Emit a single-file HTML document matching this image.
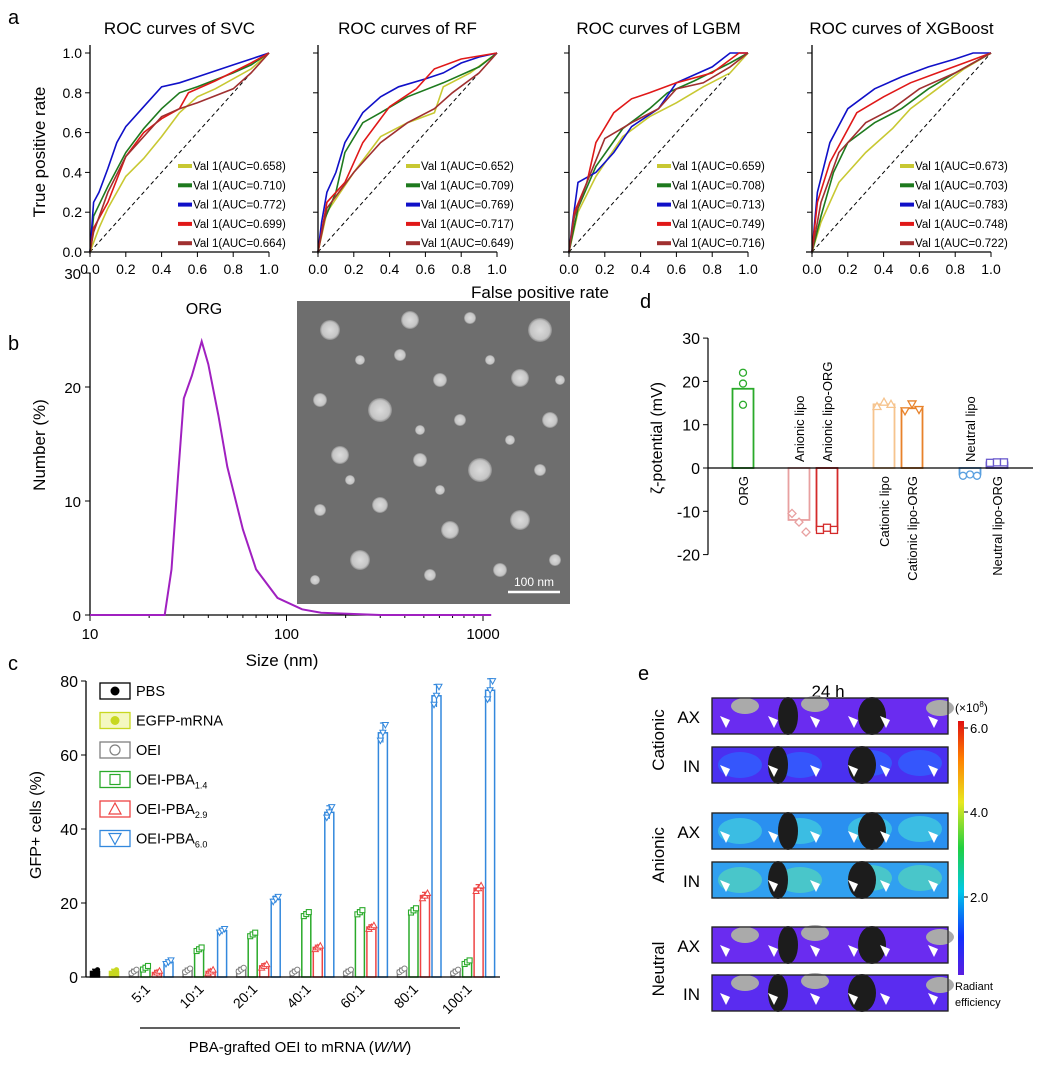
<!DOCTYPE html>
<html><head><meta charset="utf-8"><style>
html,body{margin:0;padding:0;background:#fff}
svg{display:block;font-family:"Liberation Sans",Arial,sans-serif}
</style></head><body>
<svg id="fig" width="1039" height="1065" viewBox="0 0 1039 1065" xmlns="http://www.w3.org/2000/svg">
<defs>
<radialGradient id="emg" cx="50%" cy="50%" r="50%"><stop offset="0" stop-color="#dcdcdc"/><stop offset="0.8" stop-color="#c4c4c4"/><stop offset="1" stop-color="#8a8a8a"/></radialGradient>
<linearGradient id="cbar" x1="0" y1="1" x2="0" y2="0"><stop offset="0" stop-color="#5a1ee0"/><stop offset="0.15" stop-color="#1030ff"/><stop offset="0.33" stop-color="#00c8e8"/><stop offset="0.5" stop-color="#20d040"/><stop offset="0.68" stop-color="#e8e820"/><stop offset="0.85" stop-color="#ff8000"/><stop offset="1" stop-color="#e01010"/></linearGradient>
</defs>
<g id="root"></g>
</svg>
<script>
const NS='http://www.w3.org/2000/svg';
const root=document.getElementById('root');
function el(tag,attrs,parent,text){const e=document.createElementNS(NS,tag);for(const k in attrs)e.setAttribute(k,attrs[k]);if(text!==undefined)e.textContent=text;(parent||root).appendChild(e);return e;}

// ---------- Panel a data ----------
const rocModels=['SVC','RF','LGBM','XGBoost'];
const rocColors=['#c8c832','#1e7a1e','#1010c8','#e01818','#a03030'];
const aucSVC=['0.658','0.710','0.772','0.699','0.664'];
const aucRF=['0.652','0.709','0.769','0.717','0.649'];
const aucLGBM=['0.659','0.708','0.713','0.749','0.716'];
const aucXGB=['0.673','0.703','0.783','0.748','0.722'];
const svcYellow=[[0,0],[0.05,0.12],[0.1,0.22],[0.2,0.38],[0.3,0.47],[0.4,0.58],[0.5,0.7],[0.6,0.78],[0.7,0.82],[0.9,0.92],[1,1]];
const svcGreen=[[0,0],[0.02,0.18],[0.1,0.33],[0.2,0.5],[0.3,0.62],[0.4,0.72],[0.5,0.8],[0.6,0.83],[0.8,0.9],[0.9,0.94],[1,1]];
const svcBlue=[[0,0],[0.02,0.25],[0.05,0.3],[0.1,0.42],[0.15,0.55],[0.2,0.63],[0.3,0.73],[0.4,0.83],[0.5,0.85],[0.6,0.88],[0.8,0.94],[0.9,0.97],[1,1]];
const svcRed=[[0,0],[0.02,0.12],[0.1,0.25],[0.2,0.48],[0.3,0.6],[0.4,0.67],[0.5,0.72],[0.55,0.8],[0.7,0.86],[0.9,0.95],[1,1]];
const svcBrown=[[0,0],[0.02,0.1],[0.1,0.3],[0.2,0.48],[0.3,0.58],[0.4,0.68],[0.5,0.72],[0.6,0.75],[0.8,0.82],[0.9,0.9],[1,1]];
const rfYellow=[[0,0],[0.05,0.2],[0.2,0.4],[0.35,0.58],[0.5,0.65],[0.65,0.7],[0.7,0.83],[0.85,0.9],[1,1]];
const rfGreen=[[0,0],[0.03,0.15],[0.1,0.3],[0.15,0.5],[0.25,0.65],[0.35,0.7],[0.5,0.78],[0.7,0.85],[0.9,0.93],[1,1]];
const rfBlue=[[0,0],[0.02,0.15],[0.05,0.3],[0.1,0.4],[0.15,0.55],[0.25,0.7],[0.35,0.78],[0.45,0.83],[0.6,0.87],[0.7,0.9],[0.8,0.95],[0.9,0.98],[1,1]];
const rfRed=[[0,0],[0.02,0.1],[0.05,0.25],[0.15,0.35],[0.25,0.55],[0.4,0.73],[0.55,0.82],[0.65,0.92],[0.8,0.97],[1,1]];
const rfBrown=[[0,0],[0.05,0.22],[0.2,0.4],[0.35,0.55],[0.5,0.65],[0.65,0.72],[0.75,0.8],[0.9,0.9],[1,1]];
const lgYellow=[[0,0],[0.05,0.2],[0.15,0.38],[0.3,0.58],[0.45,0.68],[0.6,0.75],[0.75,0.83],[0.9,0.9],[1,1]];
const lgGreen=[[0,0],[0.05,0.22],[0.15,0.43],[0.3,0.62],[0.45,0.72],[0.55,0.8],[0.7,0.86],[0.9,0.95],[1,1]];
const lgBlue=[[0,0],[0.02,0.15],[0.05,0.35],[0.15,0.4],[0.25,0.5],[0.35,0.63],[0.5,0.72],[0.6,0.85],[0.8,0.93],[0.9,1],[1,1]];
const lgRed=[[0,0],[0.03,0.2],[0.1,0.35],[0.15,0.55],[0.25,0.7],[0.35,0.77],[0.45,0.8],[0.6,0.85],[0.8,0.9],[0.95,1],[1,1]];
const lgBrown=[[0,0],[0.03,0.18],[0.1,0.35],[0.2,0.57],[0.35,0.65],[0.5,0.72],[0.6,0.82],[0.75,0.85],[0.9,0.93],[1,1]];
const xgYellow=[[0,0],[0.05,0.15],[0.15,0.35],[0.3,0.5],[0.45,0.62],[0.55,0.72],[0.7,0.82],[0.85,0.92],[1,1]];
const xgGreen=[[0,0],[0.05,0.18],[0.12,0.4],[0.2,0.55],[0.35,0.65],[0.5,0.72],[0.65,0.82],[0.8,0.9],[1,1]];
const xgBlue=[[0,0],[0.03,0.3],[0.1,0.55],[0.2,0.72],[0.35,0.82],[0.5,0.88],[0.65,0.93],[0.8,0.97],[0.9,1],[1,1]];
const xgRed=[[0,0],[0.03,0.25],[0.1,0.45],[0.25,0.7],[0.4,0.78],[0.55,0.85],[0.7,0.9],[0.85,0.95],[1,1]];
const xgBrown=[[0,0],[0.05,0.25],[0.15,0.5],[0.3,0.65],[0.45,0.72],[0.6,0.82],[0.8,0.9],[1,1]];
const rocSets=[[svcYellow,svcGreen,svcBlue,svcRed,svcBrown],[rfYellow,rfGreen,rfBlue,rfRed,rfBrown],[lgYellow,lgGreen,lgBlue,lgRed,lgBrown],[xgYellow,xgGreen,xgBlue,xgRed,xgBrown]];
const rocAucs=[aucSVC,aucRF,aucLGBM,aucXGB];
const rocTicks=['0.0','0.2','0.4','0.6','0.8','1.0'];

// ---------- Panel b data ----------
const sizeNm=[10,24,26,28,30,33,37,40,45,50,60,70,90,120,150,300,1100];
const numberPct=[0,0,4,12,19,21,24,22,17.5,13,7.5,4,1.5,0.5,0.2,0,0];
const bTicksY=[0,10,20,30];
const bTicksX=[10,100,1000];

// ---------- Panel c data ----------
const cRatios=['5:1','10:1','20:1','40:1','60:1','80:1','100:1'];
const cPBS=1.5, cEGFP=1.5;
const cOEI=[1.5,1.8,2,1.5,1.5,1.8,1.5];
const cPBA14=[2.5,7.5,11.5,17,17.5,18,4];
const cPBA29=[1.2,1.5,3,8,13.5,22,24];
const cPBA60=[4,12.5,21,44.5,66,76,77.5];
const cTicks=[0,20,40,60,80];

// ---------- Panel d data ----------
const dNames=['ORG','Anionic lipo','Anionic lipo-ORG','Cationic lipo','Cationic lipo-ORG','Neutral lipo','Neutral lipo-ORG'];
const dValues=[18.3,-12,-14.3,14.7,13.8,-1.5,1.3];
const dPoints=[[22,19.5,14.6],[-10.5,-12.5,-14.8],[-14.3,-13.8,-14.3],[14.2,15.2,14.7],[13.2,14.8,13.5],[-1.8,-1.5,-1.8],[1.2,1.3,1.3]];
const dTicks=[30,20,10,0,-10,-20];

// ---------- draw panel a ----------
const aX0=[90,318,569,812], aW=179, aY0=252, aH=199;
el('text',{x:8,y:24,'font-size':20,},root,'a');
rocModels.forEach((m,i)=>{
  const g=el('g',{});
  
  
  const sx=v=>aX0[i]+v*aW, sy=v=>aY0-v*aH;
  el('text',{x:aX0[i]+aW/2,y:34,'text-anchor':'middle','font-size':17},g,'ROC curves of '+m);
  el('line',{x1:sx(0),y1:sy(0),x2:sx(1),y2:sy(1),stroke:'#000','stroke-dasharray':'4,3','stroke-width':1},g);
  rocSets[i].forEach((pts,k)=>{
    const p=el('polyline',{points:pts.map(q=>sx(q[0]).toFixed(1)+','+sy(q[1]).toFixed(1)).join(' '),fill:'none',stroke:rocColors[k],'stroke-width':1.6},g);
    
    
    const ly=170+k*19.3, lx=aX0[i]+88;
    el('line',{x1:lx,y1:ly-4,x2:lx+14,y2:ly-4,stroke:rocColors[k],'stroke-width':4},g);
    const t=el('text',{x:lx+15,y:ly,'font-size':11.5},g,'Val 1(AUC='+rocAucs[i][k]+')');
    
    
  });
  el('line',{x1:aX0[i],y1:aY0+2,x2:aX0[i],y2:sy(1)-8,stroke:'#000','stroke-width':1.3},g);
  el('line',{x1:aX0[i]-6,y1:aY0,x2:sx(1),y2:aY0,stroke:'#000','stroke-width':1.3},g);
  rocTicks.forEach((t,j)=>{
    const v=j*0.2;
    el('line',{x1:sx(v),y1:aY0,x2:sx(v),y2:aY0+5,stroke:'#000'},g);
    el('line',{x1:aX0[i]-5,y1:sy(v),x2:aX0[i],y2:sy(v),stroke:'#000'},g);
    el('text',{x:sx(v),y:aY0+22,'text-anchor':'middle','font-size':14},g,t);
    if(i===0) el('text',{x:aX0[i]-8,y:sy(v)+5,'text-anchor':'end','font-size':14},g,t);
  });
});
el('text',{x:0,y:0,transform:'translate(45,152) rotate(-90)','text-anchor':'middle','font-size':17,},root,'True positive rate');
el('text',{x:540,y:298,'text-anchor':'middle','font-size':17,},root,'False positive rate');

// ---------- draw panel b ----------
(function(){
  const g=el('g',{});
  
  
  const x0=90,y0=615,perDec=196.5,yPer=11.4;
  const sx=v=>x0+Math.log10(v/10)*perDec, sy=v=>y0-v*yPer;
  el('text',{x:8,y:350,'font-size':20},g,'b');
  const em=el('g',{},g);
  
  
  el('rect',{x:297,y:301,width:273,height:303,fill:'#6e6e6e'},em);
  const parts=[[330,330,10],[410,320,9],[470,318,6],[540,330,12],[360,360,5],[440,380,7],[520,378,9],[320,400,7],[380,410,12],[460,420,6],[550,420,8],[340,455,9],[420,460,7],[480,470,12],[540,470,6],[320,510,6],[380,505,8],[450,530,9],[520,520,10],[360,560,10],[430,575,6],[500,570,7],[315,580,5],[555,560,6],[400,355,6],[490,360,5],[560,380,5],[420,430,5],[510,440,5],[350,480,5],[440,490,5]];
  parts.forEach(p=>el('circle',{cx:p[0],cy:p[1],r:p[2],fill:'url(#emg)'},em));
  el('line',{x1:508,y1:592,x2:560,y2:592,stroke:'#fff','stroke-width':2.5},em);
  el('text',{x:534,y:586,'text-anchor':'middle','font-size':12,fill:'#fff'},em,'100 nm');
  el('line',{x1:x0,y1:y0,x2:x0,y2:sy(30),stroke:'#000','stroke-width':1.3},g);
  el('line',{x1:x0,y1:y0,x2:sx(1100),y2:y0,stroke:'#000','stroke-width':1.3},g);
  bTicksY.forEach(v=>{el('line',{x1:x0-5,y1:sy(v),x2:x0,y2:sy(v),stroke:'#000'},g);el('text',{x:x0-9,y:sy(v)+6,'text-anchor':'end','font-size':15},g,String(v));});
  bTicksX.forEach(v=>{el('line',{x1:sx(v),y1:y0,x2:sx(v),y2:y0+6,stroke:'#000'},g);el('text',{x:sx(v),y:y0+24,'text-anchor':'middle','font-size':15},g,String(v));});
  [20,30,40,50,60,70,80,90,200,300,400,500,600,700,800,900].forEach(v=>el('line',{x1:sx(v),y1:y0,x2:sx(v),y2:y0+3,stroke:'#000'},g));
  const c=el('polyline',{points:sizeNm.map((s,i)=>sx(s).toFixed(1)+','+sy(numberPct[i]).toFixed(1)).join(' '),fill:'none',stroke:'#a020c0','stroke-width':2},g);
  
  
  el('text',{x:204,y:314,'text-anchor':'middle','font-size':16},g,'ORG');
  el('text',{x:0,y:0,transform:'translate(45,445) rotate(-90)','text-anchor':'middle','font-size':17},g,'Number (%)');
  el('text',{x:282,y:666,'text-anchor':'middle','font-size':17},g,'Size (nm)');
})();

// ---------- draw panel c ----------
(function(){
  const g=el('g',{});
  
  
  const x0=86,y0=977,per=3.7,sy=v=>y0-v*per,bw=9;
  el('text',{x:8,y:670,'font-size':20},g,'c');
  function bar(cx,v,col,fill,marker,name){
    const r=el('rect',{x:cx-bw/2,y:sy(v),width:bw,height:v*per,fill:fill,stroke:col,'stroke-width':1.5},g);
    
    
    const e=Math.max(0.6,v*0.04);
    el('line',{x1:cx,y1:sy(v+e),x2:cx,y2:sy(v-e),stroke:col,'stroke-width':1.2},g);
    el('line',{x1:cx-3,y1:sy(v+e),x2:cx+3,y2:sy(v+e),stroke:col,'stroke-width':1.2},g);
    [-2.5,0,2.5].forEach((dx,j)=>{const vv=v+(j-1)*e*0.8;mk(cx+dx,sy(vv),marker,col);});
  }
  function mk(x,y,m,col){
    if(m==='dot')el('circle',{cx:x,cy:y,r:2.6,fill:col},g);
    else if(m==='circ')el('circle',{cx:x,cy:y,r:2.6,fill:'#fff',stroke:col,'stroke-width':1},g);
    else if(m==='sq')el('rect',{x:x-2.5,y:y-2.5,width:5,height:5,fill:'#fff',stroke:col,'stroke-width':1.1},g);
    else if(m==='tri')el('polygon',{points:`${x},${y-3} ${x-3},${y+2.5} ${x+3},${y+2.5}`,fill:'#fff',stroke:col,'stroke-width':1},g);
    else el('polygon',{points:`${x},${y+3} ${x-3},${y-2.5} ${x+3},${y-2.5}`,fill:'#fff',stroke:col,'stroke-width':1},g);
  }
  bar(95,cPBS,'#000','#000','dot','bar-pbs');
  bar(114,cEGFP,'#c8d820','#c8d820','dot','bar-egfp-mrna');
  const gx=c=>134+c*53.6;
  cRatios.forEach((r,i)=>{
    bar(gx(i),cOEI[i],'#808080','#fff','circ','bar-oei-'+r);
    bar(gx(i)+11.5,cPBA14[i],'#2aaa2a','#fff','sq','bar-pba14-'+r);
    bar(gx(i)+23,cPBA29[i],'#ee4444','#fff','tri','bar-pba29-'+r);
    bar(gx(i)+34.5,cPBA60[i],'#3388dd','#fff','itri','bar-pba60-'+r);
    el('text',{x:0,y:0,transform:`translate(${gx(i)+17},${990}) rotate(-45)`,'text-anchor':'end','font-size':14},g,r);
  });
  el('line',{x1:x0,y1:y0,x2:x0,y2:sy(80),stroke:'#000','stroke-width':1.3},g);
  el('line',{x1:x0,y1:y0,x2:500,y2:y0,stroke:'#000','stroke-width':1.3},g);
  cTicks.forEach(v=>{el('line',{x1:x0-5,y1:sy(v),x2:x0,y2:sy(v),stroke:'#000'},g);el('text',{x:x0-8,y:sy(v)+6,'text-anchor':'end','font-size':16},g,String(v));});
  el('line',{x1:140,y1:1028,x2:460,y2:1028,stroke:'#000','stroke-width':1.3},g);
  el('text',{x:300,y:1052,'text-anchor':'middle','font-size':15},g).innerHTML='PBA-grafted OEI to mRNA (<tspan font-style="italic">W/W</tspan>)';
  el('text',{x:0,y:0,transform:'translate(41,825) rotate(-90)','text-anchor':'middle','font-size':16},g,'GFP+  cells (%)');
  const leg=[['PBS','#000','dot'],['EGFP-mRNA','#c8d820','dot'],['OEI','#808080','circ'],['OEI-PBA','#2aaa2a','sq','1.4'],['OEI-PBA','#ee4444','tri','2.9'],['OEI-PBA','#3388dd','itri','6.0']];
  leg.forEach((l,i)=>{
    const y=691+i*29.5;
    el('rect',{x:100,y:y-8,width:30,height:16,fill:i===1?'#f4f8c0':'#fff',stroke:l[1],'stroke-width':1.3},g);
    if(l[2]==='dot')el('circle',{cx:115,cy:y,r:4.5,fill:l[1]},g);
    else if(l[2]==='circ')el('circle',{cx:115,cy:y,r:5,fill:'none',stroke:l[1],'stroke-width':1.2},g);
    else if(l[2]==='sq')el('rect',{x:110,y:y-5,width:10,height:10,fill:'none',stroke:l[1],'stroke-width':1.2},g);
    else if(l[2]==='tri')el('polygon',{points:`115,${y-6} 109,${y+5} 121,${y+5}`,fill:'none',stroke:l[1],'stroke-width':1.2},g);
    else el('polygon',{points:`115,${y+6} 109,${y-5} 121,${y-5}`,fill:'none',stroke:l[1],'stroke-width':1.2},g);
    const t=el('text',{x:136,y:y+5,'font-size':14.5},g);
    t.textContent=l[0];
    
    
    if(l[3])el('tspan',{'font-size':9,dy:4},t,l[3]);
  });
})();

// ---------- draw panel d ----------
(function(){
  const g=el('g',{});
  
  
  const x0=708,y0=468,per=4.33,sy=v=>y0-v*per;
  const cx=[743,799,827,884,912,970,997];
  const cols=['#2aaa2a','#e8a0a0','#d42a2a','#f6c48e','#e8822a','#5aa0e0','#6a5acd'];
  const marks=['circ','dia','sq','tri','itri','circ','sq'];
  el('text',{x:640,y:308,'font-size':20},g,'d');
  dValues.forEach((v,i)=>{
    const r=el('rect',{x:cx[i]-10.5,y:Math.min(sy(v),y0),width:21,height:Math.abs(v)*per,fill:'#fff',stroke:cols[i],'stroke-width':1.8},g);
    
    
    dPoints[i].forEach((p,j)=>{
      const x=cx[i]+(j-1)*7,y=sy(p),c=cols[i];
      const m=marks[i];
      if(m==='circ')el('circle',{cx:i===0?cx[i]:x,cy:y,r:3.5,fill:'#fff',stroke:c,'stroke-width':1.3},g);
      else if(m==='sq')el('rect',{x:x-3.5,y:y-3.5,width:7,height:7,fill:'#fff',stroke:c,'stroke-width':1.3},g);
      else if(m==='dia')el('polygon',{points:`${x},${y-4} ${x+4},${y} ${x},${y+4} ${x-4},${y}`,fill:'#fff',stroke:c,'stroke-width':1.3},g);
      else if(m==='tri')el('polygon',{points:`${x},${y-4} ${x-4},${y+3} ${x+4},${y+3}`,fill:'#fff',stroke:c,'stroke-width':1.3},g);
      else el('polygon',{points:`${x},${y+4} ${x-4},${y-3} ${x+4},${y-3}`,fill:'#fff',stroke:c,'stroke-width':1.3},g);
    });
    if(v>=0) el('text',{x:0,y:0,transform:`translate(${cx[i]+5},${476}) rotate(-90)`,'text-anchor':'end','font-size':13},g,dNames[i]);
    else el('text',{x:0,y:0,transform:`translate(${cx[i]+5},${462}) rotate(-90)`,'text-anchor':'start','font-size':13},g,dNames[i]);
  });
  el('line',{x1:x0,y1:sy(30),x2:x0,y2:sy(-20),stroke:'#000','stroke-width':1.2},g);
  el('line',{x1:x0,y1:y0,x2:1033,y2:y0,stroke:'#000','stroke-width':1.2},g);
  dTicks.forEach(v=>{el('line',{x1:x0-5,y1:sy(v),x2:x0,y2:sy(v),stroke:'#000'},g);el('text',{x:x0-8,y:sy(v)+6,'text-anchor':'end','font-size':16},g,String(v));});
  el('text',{x:0,y:0,transform:'translate(662,438) rotate(-90)','text-anchor':'middle','font-size':16},g,'ζ-potential (mV)');
})();

// ---------- draw panel e ----------
(function(){
  const g=el('g',{});
  
  
  el('text',{x:638,y:680,'font-size':20},g,'e');
  el('text',{x:828,y:697,'text-anchor':'middle','font-size':17},g,'24 h');
  const rows=[[698,'AX','#6a2cf0',null],[747,'IN','#4a30f0','#3060ff'],[813,'AX','#2a90f0','#40c8e0'],[862,'IN','#30a0f0','#50d0c0'],[927,'AX','#6a2cf0',null],[975,'IN','#5a2cf0',null]];
  rows.forEach((r,i)=>{
    const s=el('g',{},g);
    
    
    el('rect',{x:712,y:r[0],width:236,height:36,fill:r[2],stroke:'#222','stroke-width':1.2},s);
    if(r[3]){[[740,18],[800,18],[870,16],[920,16]].forEach(q=>el('ellipse',{cx:q[0],cy:r[0]+q[1],rx:22,ry:13,fill:r[3],opacity:0.8},s));}
    if(i===0||i===4||i===5){[[745,8],[815,6],[940,10]].forEach(q=>el('ellipse',{cx:q[0],cy:r[0]+q[1],rx:14,ry:8,fill:'#aaaaaa'},s));}
    [[778,10],[862,14]].forEach(q=>el('ellipse',{cx:q[0]+(i%2?0:10),cy:r[0]+18,rx:q[1],ry:19,fill:'#1c1c1c'},s));
    el('rect',{x:712,y:r[0],width:236,height:36,fill:'none',stroke:'#222','stroke-width':1.2},s);
    [730,778,820,858,890,938].forEach(x=>el('polygon',{points:`${x},${r[0]+22} ${x-10},${r[0]+18} ${x-4},${r[0]+30}`,fill:'#fff'},s));
    el('text',{x:700,y:r[0]+25,'text-anchor':'end','font-size':17},g,r[1]);
  });
  [['Cationic',740],['Anionic',855],['Neutral',969]].forEach(t=>el('text',{x:0,y:0,transform:`translate(664,${t[1]}) rotate(-90)`,'text-anchor':'middle','font-size':17},g,t[0]));
  const cb=el('rect',{x:958,y:721,width:6,height:254,fill:'url(#cbar)'},g);
  
  
  [['6.0',728],['4.0',812],['2.0',897]].forEach(t=>{el('line',{x1:964,y1:t[1],x2:968,y2:t[1],stroke:'#000'},g);el('text',{x:970,y:t[1]+5,'font-size':13},g,t[0]);});
  el('text',{x:955,y:712,'font-size':12},g).innerHTML='(×10<tspan font-size="8" dy="-5">8</tspan><tspan dy="5">)</tspan>';
  el('text',{x:955,y:990,'font-size':11},g,'Radiant');
  el('text',{x:955,y:1006,'font-size':11},g,'efficiency');
})();
</script>
</body></html>
